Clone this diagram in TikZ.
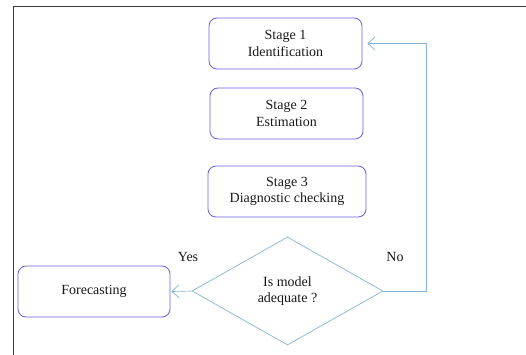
\documentclass[tikz,border=0pt]{standalone}
\usepackage{fontspec}
\setmainfont{Liberation Serif}
\usepackage{tikz}
\usetikzlibrary{arrows.meta,shapes.geometric}
\definecolor{BoxBlue}{RGB}{105,95,225}
\definecolor{LineBlue}{RGB}{135,178,215}
\definecolor{FrameGray}{RGB}{60,60,60}
\definecolor{TextGray}{RGB}{25,25,25}

\tikzset{
    stagebox/.style={draw=BoxBlue, line width=0.8pt, rounded corners=8pt,
        minimum height=51pt, align=center, text=TextGray,
        font=\fontsize{14}{16.4}\selectfont},
    decision/.style={draw=LineBlue, line width=0.7pt, diamond, inner sep=0pt,
        minimum width=191pt, minimum height=108pt, align=center, text=TextGray,
        font=\fontsize{14}{16.4}\selectfont},
    flowline/.style={draw=LineBlue, line width=0.7pt,
        -{Straight Barb[length=7pt,width=13pt,line width=0.7pt]}},
    tag/.style={text=TextGray, font=\fontsize{14}{16.4}\selectfont}
}

\begin{document}
\begin{tikzpicture}[x=1pt,y=-1pt]
    \useasboundingbox (0,0) rectangle (526,355);
    %%Frame
    \draw[FrameGray, line width=0.8pt] (13,355) to (13,6) to (526,6);
    %%Stages
    \node[stagebox, minimum width=153pt] (st1) at (285.5,43.5) {Stage 1\\Identification};
    \node[stagebox, minimum width=153pt] (st2) at (286.5,113.5) {Stage 2\\Estimation};
    \node[stagebox, minimum width=158pt] (st3) at (287,191.5) {Stage 3\\Diagnostic checking};
    %%Decision
    \node[decision] (dia) at (287.5,291) {Is model\\adequate ?};
    \node[stagebox, minimum width=152pt] (fc) at (94,291.5) {Forecasting};
    %%Labels
    \node[tag] (yes) at (188,257) {Yes};
    \node[tag] (no) at (395,257) {No};
    %%Connectors
    \coordinate (turn) at (426,291);
    \draw[flowline, shorten >=1pt] (dia.west) to (fc.east);
    \draw[flowline, shorten >=5pt] (dia.east) -- (turn) |- (st1.east);
\end{tikzpicture}
\end{document}
